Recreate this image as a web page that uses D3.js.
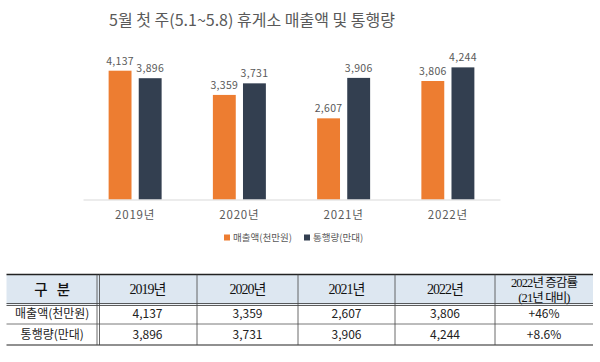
<!DOCTYPE html>
<html>
<head>
<meta charset="utf-8">
<script src="https://cdn.jsdelivr.net/npm/d3@7"></script>
<style>
  body { margin: 0; background: #fff; }
  svg { display: block; }
</style>
</head>
<body>
<div id="chart"></div>
<script>
// datos del grafico
const years = ["2019년", "2020년", "2021년", "2022년"];
const sales = [4137, 3359, 2607, 3806];
const traffic = [3896, 3731, 3906, 4244];
const seriesNames = ["매출액(천만원)", "통행량(만대)"];
const changeRates = ["+46%", "+8.6%"];
const headerLabels = ["구 분", "2019년", "2020년", "2021년", "2022년"];
const lastHeader = ["2022년 증감률", "(21년 대비)"];

const WIDTH = 600;
const HEIGHT = 362;
const COLORS = ["#ED7D31", "#333F50"];
const FONT = "'Noto Sans CJK KR', 'Noto Sans', sans-serif";
const TEXT_GRAY = "#595959";

const MARGIN = { left: 83, right: 100, top: 60, baseline: 199.5 };

const svg = d3.select("#chart")
    .append("svg")
    .attr("width", WIDTH)
    .attr("height", HEIGHT);

// titulo
svg.append("text")
    .attr("x", 252)
    .attr("y", 26)
    .attr("text-anchor", "middle")
    .attr("font-family", FONT)
    .attr("font-size", 16)
    .attr("fill", TEXT_GRAY)
    .text("5월 첫 주(5.1~5.8) 휴게소 매출액 및 통행량");

const x0 = d3.scaleBand()
    .domain(years)
    .range([MARGIN.left, WIDTH - MARGIN.right])
    .padding(0);

const x1 = d3.scaleBand()
    .domain([0, 1])
    .range([0, 53])
    .paddingInner(0.24);

const y = d3.scaleLinear()
    .domain([0, 4137])
    .range([MARGIN.baseline, 70.7]);

const rows = years.map((yr, i) => ({ year: yr, vals: [sales[i], traffic[i]] }));

const groups = svg.selectAll(".grupo")
    .data(rows)
    .join("g")
    .attr("class", "grupo")
    .attr("transform", d => `translate(${x0(d.year) + x0.bandwidth() / 2 - 26.5}, 0)`);

groups.selectAll("rect")
    .data(d => d.vals)
    .join("rect")
    .attr("x", (d, i) => x1(i))
    .attr("y", d => y(d))
    .attr("width", x1.bandwidth())
    .attr("height", d => MARGIN.baseline - y(d))
    .attr("fill", (d, i) => COLORS[i]);

groups.selectAll(".valor")
    .data(d => d.vals)
    .join("text")
    .attr("class", "valor")
    .attr("x", (d, i) => x1(i) + x1.bandwidth() / 2)
    .attr("y", d => y(d) - 6)
    .attr("text-anchor", "middle")
    .attr("font-family", FONT)
    .attr("font-size", 10.5)
    .attr("letter-spacing", 0.3)
    .attr("fill", TEXT_GRAY)
    .text(d => d3.format(",")(d));

// eje x
const ejeX = svg.append("g")
    .attr("transform", `translate(0, ${MARGIN.baseline})`)
    .call(d3.axisBottom(x0).tickSize(0).tickPadding(11));
ejeX.select(".domain").attr("stroke", "#d9d9d9").attr("stroke-width", 1);
ejeX.selectAll("text")
    .attr("font-family", FONT)
    .attr("font-size", 11.5)
    .attr("letter-spacing", 0.8)
    .attr("fill", TEXT_GRAY);

// leyenda
const legend = svg.append("g").attr("transform", "translate(224, 238)");
const legendX = [0, 80];
seriesNames.forEach((name, i) => {
    const g = legend.append("g").attr("transform", `translate(${legendX[i]}, 0)`);
    g.append("rect")
        .attr("x", 0).attr("y", -3.5)
        .attr("width", 6).attr("height", 6)
        .attr("fill", COLORS[i]);
    g.append("text")
        .attr("x", 9).attr("y", 0)
        .attr("dy", "0.35em")
        .attr("font-family", FONT)
        .attr("font-size", 9.5)
        .attr("fill", TEXT_GRAY)
        .text(name);
});

// tabla
const colEdges = [6.5, 98, 197, 298, 395, 495, 593];
const rowEdges = [274.5, 304.5, 324, 345];
const TABLE_FONT = "'Noto Sans CJK KR', sans-serif";
const SERIF = "'Liberation Serif', 'Noto Sans CJK KR', serif";

const tabla = svg.append("g");

tabla.append("rect")
    .attr("x", colEdges[0]).attr("y", rowEdges[0])
    .attr("width", colEdges[6] - colEdges[0])
    .attr("height", rowEdges[1] - rowEdges[0])
    .attr("fill", "#dde7f1");

// lineas horizontales
tabla.append("line")
    .attr("x1", colEdges[0]).attr("x2", colEdges[6])
    .attr("y1", rowEdges[0]).attr("y2", rowEdges[0])
    .attr("stroke", "#222").attr("stroke-width", 1.3);
[rowEdges[1] - 1, rowEdges[1] + 1].forEach(yy => {
    tabla.append("line")
        .attr("x1", colEdges[0]).attr("x2", colEdges[6])
        .attr("y1", yy).attr("y2", yy)
        .attr("stroke", "#333").attr("stroke-width", 0.8);
});
tabla.append("line")
    .attr("x1", colEdges[0]).attr("x2", colEdges[6])
    .attr("y1", rowEdges[2]).attr("y2", rowEdges[2])
    .attr("stroke", "#555").attr("stroke-width", 0.8);
tabla.append("line")
    .attr("x1", colEdges[0]).attr("x2", colEdges[6])
    .attr("y1", rowEdges[3]).attr("y2", rowEdges[3])
    .attr("stroke", "#222").attr("stroke-width", 1.2);

// lineas verticales
[colEdges[1] - 1, colEdges[1] + 1.5].forEach(xx => {
    tabla.append("line")
        .attr("x1", xx).attr("x2", xx)
        .attr("y1", rowEdges[0]).attr("y2", rowEdges[3])
        .attr("stroke", "#444").attr("stroke-width", 0.8);
});
colEdges.slice(2, 6).forEach(xx => {
    tabla.append("line")
        .attr("x1", xx).attr("x2", xx)
        .attr("y1", rowEdges[0]).attr("y2", rowEdges[3])
        .attr("stroke", "#444").attr("stroke-width", 0.8);
});

const colCenter = i => (colEdges[i] + colEdges[i + 1]) / 2;
const headY = (rowEdges[0] + rowEdges[1]) / 2;

headerLabels.forEach((lab, i) => {
    tabla.append("text")
        .attr("x", colCenter(i) + (i === 0 ? 1.5 : 0))
        .attr("y", headY)
        .attr("dy", "0.35em")
        .attr("text-anchor", "middle")
        .attr("font-family", i === 0 ? TABLE_FONT : SERIF)
        .attr("font-size", i === 0 ? 14.5 : 14)
        .attr("letter-spacing", i === 0 ? 3 : -1)
        .attr("font-weight", i === 0 ? 500 : "normal")
        .attr("fill", "#111")
        .text(lab);
});

lastHeader.forEach((lab, j) => {
    tabla.append("text")
        .attr("x", colCenter(5))
        .attr("y", headY + (j === 0 ? -7 : 8))
        .attr("dy", "0.35em")
        .attr("text-anchor", "middle")
        .attr("font-family", SERIF)
        .attr("font-size", 12.5)
        .attr("letter-spacing", -0.9)
        .attr("fill", "#111")
        .text(lab);
});

const tableRows = [sales, traffic];
tableRows.forEach((vals, r) => {
    const cy = (rowEdges[r + 1] + rowEdges[r + 2]) / 2;
    const cells = [seriesNames[r]].concat(vals.map(d3.format(","))).concat([changeRates[r]]);
    cells.forEach((txt, c) => {
        tabla.append("text")
            .attr("x", colCenter(c))
            .attr("y", cy)
            .attr("dy", "0.35em")
            .attr("text-anchor", "middle")
            .attr("font-family", TABLE_FONT)
            .attr("font-size", 12)
            .attr("fill", "#222")
            .text(txt);
    });
});
</script>
</body>
</html>
